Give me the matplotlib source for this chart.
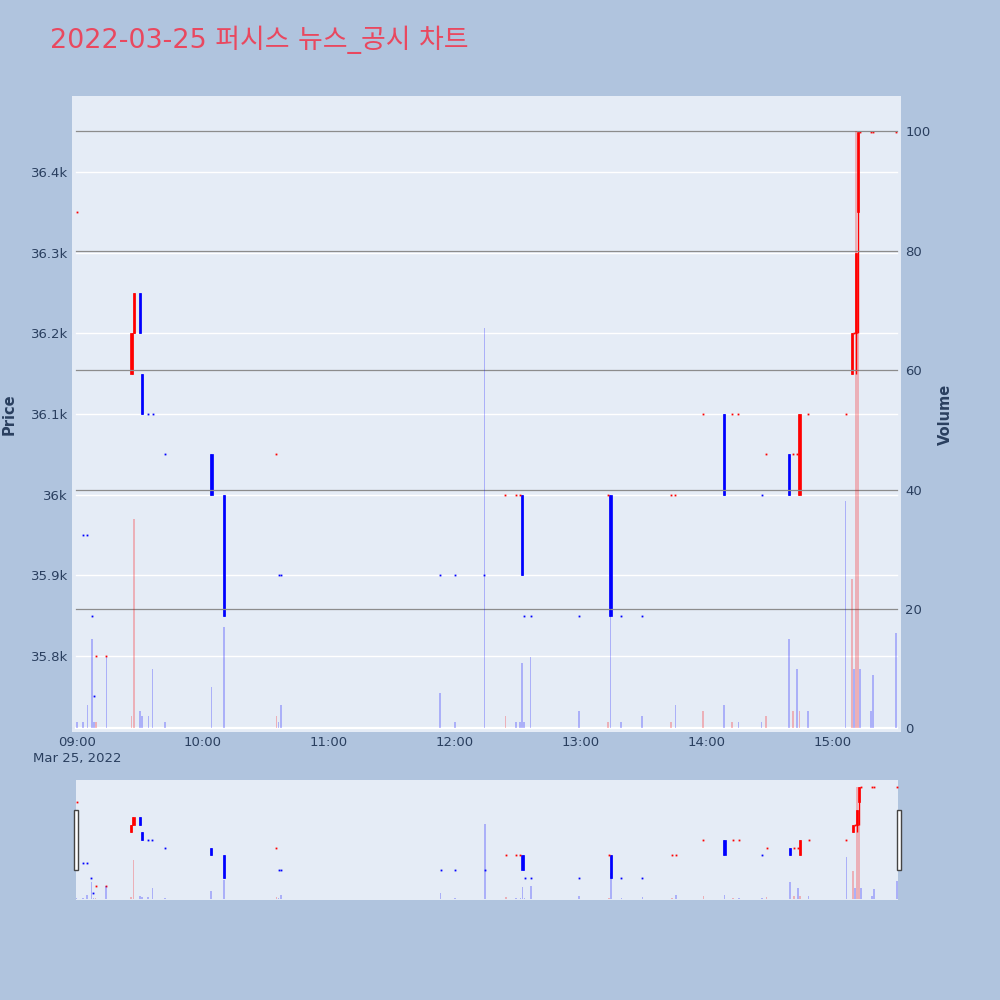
import matplotlib
matplotlib.use('Agg')
from matplotlib import pyplot as plt
from matplotlib.patches import Rectangle
import matplotlib.dates as mdates
from matplotlib.ticker import FuncFormatter, FixedLocator
from datetime import datetime

# minute candles (only minutes with trades)
times = ['09:00', '09:03', '09:05', '09:07', '09:08', '09:09', '09:14', '09:26', '09:27',
         '09:30', '09:31', '09:34', '09:36', '09:42', '10:04', '10:10', '10:35', '10:36',
         '10:37', '11:53', '12:00', '12:14', '12:24', '12:29', '12:31', '12:32', '12:33',
         '12:36', '12:59', '13:13', '13:14', '13:19', '13:29', '13:43', '13:45', '13:58',
         '14:08', '14:12', '14:15', '14:26', '14:28', '14:39', '14:41', '14:43', '14:44',
         '14:48', '15:06', '15:09', '15:10', '15:11', '15:12', '15:13', '15:18', '15:19',
         '15:30']
opens = [36350, 35950, 35950, 35850, 35750, 35800, 35800, 36150, 36200,
         36250, 36150, 36100, 36100, 36050, 36050, 36000, 36050, 35900,
         35900, 35900, 35900, 35900, 36000, 36000, 36000, 36000, 35850,
         35850, 35850, 36000, 36000, 35850, 35850, 36000, 36000, 36100,
         36100, 36100, 36100, 36000, 36050, 36050, 36050, 36050, 36000,
         36100, 36100, 36150, 36200, 36200, 36350, 36450, 36450, 36450,
         36450]
highs = [36350, 35950, 35950, 35850, 35750, 35800, 35800, 36200, 36250,
         36250, 36150, 36100, 36100, 36050, 36050, 36000, 36050, 35900,
         35900, 35900, 35900, 35900, 36000, 36000, 36000, 36000, 35850,
         35850, 35850, 36000, 36000, 35850, 35850, 36000, 36000, 36100,
         36100, 36100, 36100, 36000, 36050, 36050, 36050, 36050, 36100,
         36100, 36100, 36200, 36200, 36300, 36450, 36450, 36450, 36450,
         36450]
lows = [36350, 35950, 35950, 35850, 35750, 35800, 35800, 36150, 36200,
        36200, 36100, 36100, 36100, 36050, 36000, 35850, 36050, 35900,
        35900, 35900, 35900, 35900, 36000, 36000, 36000, 35900, 35850,
        35850, 35850, 36000, 35850, 35850, 35850, 36000, 36000, 36100,
        36000, 36100, 36100, 36000, 36050, 36000, 36050, 36050, 36000,
        36100, 36100, 36150, 36200, 36150, 36200, 36450, 36450, 36450,
        36450]
closes = [36350, 35950, 35950, 35850, 35750, 35800, 35800, 36200, 36250,
          36200, 36100, 36100, 36100, 36050, 36000, 35850, 36050, 35900,
          35900, 35900, 35900, 35900, 36000, 36000, 36000, 35900, 35850,
          35850, 35850, 36000, 35850, 35850, 35850, 36000, 36000, 36100,
          36000, 36100, 36100, 36000, 36050, 36000, 36050, 36050, 36100,
          36100, 36100, 36200, 36200, 36300, 36450, 36450, 36450, 36450,
          36450]
volumes = [1, 1, 4, 15, 1, 1, 12, 2, 35,
           3, 2, 2, 10, 1, 7, 17, 2, 1,
           4, 6, 1, 67, 2, 1, 1, 11, 1,
           12, 3, 1, 23, 1, 2, 1, 4, 3,
           4, 1, 1, 1, 2, 15, 3, 10, 3,
           3, 38, 25, 10, 100, 66, 10, 3, 9,
           16]
# volume bar colour: 'r' or 'b'
vol_side = ['b', 'b', 'b', 'b', 'b', 'r', 'b', 'r', 'r',
            'b', 'b', 'b', 'b', 'b', 'b', 'b', 'r', 'b',
            'b', 'b', 'b', 'b', 'r', 'b', 'b', 'b', 'b',
            'b', 'b', 'r', 'b', 'b', 'b', 'r', 'b', 'r',
            'b', 'r', 'b', 'b', 'r', 'b', 'r', 'b', 'r',
            'b', 'b', 'r', 'b', 'r', 'r', 'b', 'b', 'b',
            'b']

day = '2022-03-25'
x = [datetime.strptime(day + ' ' + t, '%Y-%m-%d %H:%M') for t in times]
xn = mdates.date2num(x)
MIN = 1 / 1440.

BG = '#B0C4DE'
PLOT_BG = '#E5ECF6'
FONT_C = '#2a3f5f'
UP = '#FF0000'
DOWN = '#0000FF'


def directions():
  """ increasing / decreasing like plotly: flat candles follow previous close """
  out = []
  prev_c = None
  prev_up = True
  for o, c in zip(opens, closes):
    if c > o:
      up = True
    elif c < o:
      up = False
    elif prev_c is not None and c != prev_c:
      up = c > prev_c
    else:
      up = prev_up
    out.append(up)
    prev_c, prev_up = c, up
  return out


def draw_candles(ax, vax):
  ups = directions()
  cols = [UP if u else DOWN for u in ups]
  ax.vlines(xn, lows, highs, colors=cols, linewidth=1.0, zorder=3)
  # boxes for candles with a body
  idx = [i for i in range(len(xn)) if opens[i] != closes[i]]
  ax.bar([xn[i] for i in idx], [abs(closes[i] - opens[i]) for i in idx],
         bottom=[min(opens[i], closes[i]) for i in idx], width=1.1 * MIN,
         color=[cols[i] for i in idx], edgecolor=[cols[i] for i in idx],
         linewidth=0.5, zorder=3)
  # flat candles are tiny ticks
  flat = [i for i in range(len(xn)) if opens[i] == closes[i] and highs[i] == lows[i]]
  for i in flat:
    ax.plot(xn[i], closes[i], marker='s', markersize=1.3, markeredgewidth=0,
            color=cols[i], zorder=3)
  vcols = [(1, 0, 0, 0.25) if s == 'r' else (0, 0, 1, 0.25) for s in vol_side]
  vax.bar(xn, volumes, width=0.8 * MIN, color=vcols, linewidth=0, zorder=3)


plt.rcParams['font.family'] = ['DejaVu Sans', 'Noto Sans CJK KR']
fig = plt.figure(figsize=(10, 10), dpi=100, facecolor=BG)

# main chart
ax = fig.add_axes([0.072, 0.268, 0.829, 0.636])
ax.set_facecolor(PLOT_BG)
vax = ax.twinx()
draw_candles(ax, vax)

t0 = mdates.date2num(datetime.strptime(day + ' 09:00', '%Y-%m-%d %H:%M'))
ax.set_xlim(t0 - 2.38 * MIN, t0 + 392.4 * MIN)
ax.set_ylim(35706, 36494)
vax.set_ylim(-0.6, 105.9)

price_ticks = [35800, 35900, 36000, 36100, 36200, 36300, 36400]
vol_ticks = [0, 20, 40, 60, 80, 100]
ax.set_yticks(price_ticks)
ax.yaxis.set_major_formatter(FuncFormatter(lambda v, p: '%gk' % (v / 1000.)))
vax.set_yticks(vol_ticks)
# gridlines (slightly inset like the original)
g0, g1 = 0.005, 0.995
for p in price_ticks:
  ax.axhline(p, g0, g1, color='white', linewidth=1.0, zorder=1)
for v in vol_ticks[1:]:
  vax.axhline(v, g0, g1, color='#8c8c8c', linewidth=0.9, zorder=1)
vax.axhline(0, g0, g1, color='white', linewidth=1.6, zorder=2)

hours = [t0 + h / 24. for h in range(7)]
ax.xaxis.set_major_locator(FixedLocator(hours))
labels = ['%02d:00' % (9 + h) for h in range(7)]
labels[0] = '09:00\nMar 25, 2022'
ax.set_xticklabels(labels, linespacing=1.25)

for a in (ax, vax):
  for s in a.spines.values():
    s.set_visible(False)
  a.tick_params(length=0, labelsize=9.5, labelcolor=FONT_C)
ax.tick_params(axis='y', pad=3)
ax.tick_params(axis='x', pad=3)
vax.tick_params(axis='y', pad=3)

fig.text(0.009, 0.586, 'Price', rotation=90, ha='center', va='center',
         fontsize=10.5, fontweight='bold', color=FONT_C)
fig.text(0.945, 0.586, 'Volume', rotation=90, ha='center', va='center',
         fontsize=10.5, fontweight='bold', color=FONT_C)

fig.text(0.05, 0.96, '2022-03-25 퍼시스 뉴스_공시 차트', ha='left', va='center',
         fontsize=19.4, color='#E9485F')

# range slider
sax = fig.add_axes([0.076, 0.100, 0.822, 0.120])
sax.set_facecolor(PLOT_BG)
svax = sax.twinx()
draw_candles(sax, svax)
sax.set_xlim(t0 - 0.3 * MIN, t0 + 390.5 * MIN)
sax.set_ylim(35706, 36494)
svax.set_ylim(-0.6, 105.9)
for a in (sax, svax):
  a.set_xticks([])
  a.set_yticks([])
  for s in a.spines.values():
    s.set_visible(False)

for hx in (0.0735, 0.8965):
  fig.add_artist(Rectangle((hx, 0.130), 0.0045, 0.060, transform=fig.transFigure,
                           facecolor='white', edgecolor='#444444', linewidth=1.0))

fig.savefig('out.png', dpi=100, facecolor=BG)
